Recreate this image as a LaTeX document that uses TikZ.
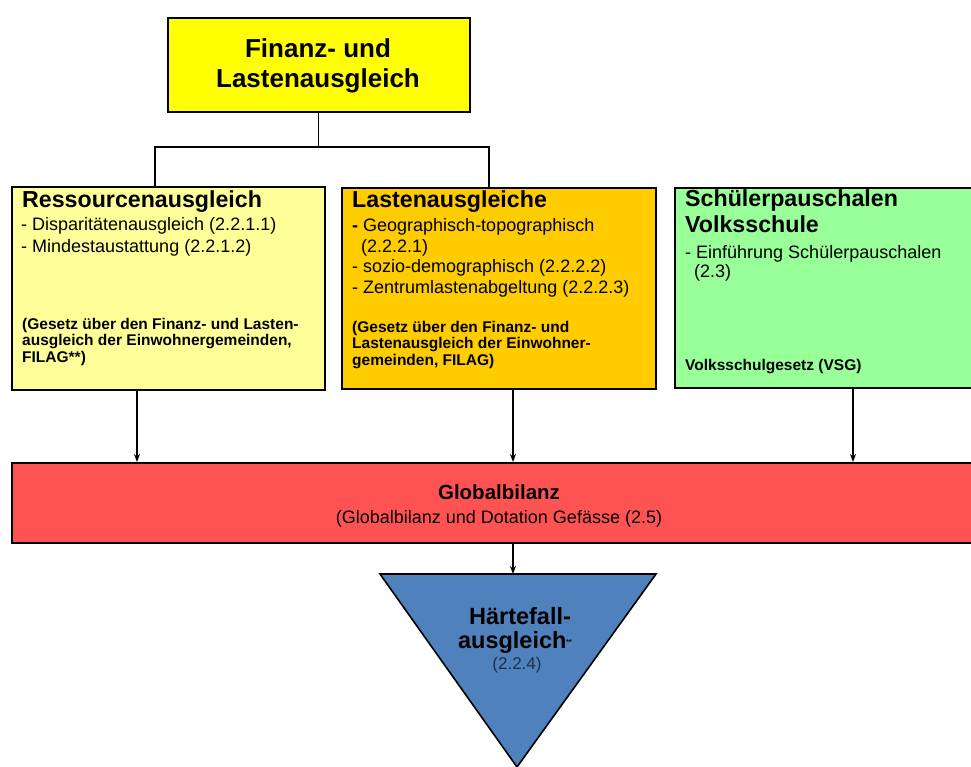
\documentclass[tikz,border=0pt]{standalone}
\usepackage{fontspec}
\setmainfont{Liberation Sans}
\usetikzlibrary{arrows.meta}

\definecolor{flayellow}{HTML}{FFFF00}
\definecolor{ressyellow}{HTML}{FFFF99}
\definecolor{lastorange}{HTML}{FFCC00}
\definecolor{schulgreen}{HTML}{99FF99}
\definecolor{globred}{HTML}{FF5353}
\definecolor{haerteblue}{HTML}{4F81BD}
\definecolor{numnavy}{HTML}{1F2F4A}

\begin{document}
\begin{tikzpicture}[x=1pt, y=-1pt,
  box/.style={draw=black, line width=1.6pt, inner sep=0pt, anchor=north west},
  txt/.style={inner sep=0pt, anchor=base west, align=left},
  head/.style={txt, font=\fontsize{23.2}{26}\selectfont\bfseries},
  body/.style={txt, font=\fontsize{18}{22}\selectfont},
  law/.style={txt, font=\fontsize{15.5}{16.2}\selectfont\bfseries},
  conn/.style={line width=1.3pt},
  arr/.style={line width=1.3pt, -{Stealth[length=8pt, width=6pt]}}]
  \useasboundingbox (0,0) rectangle (971,767);
  \clip (0,0) rectangle (971,767);

  % top (multi-line texts sit on their last baseline)
  \node[box, fill=flayellow, minimum width=302pt, minimum height=94pt] (fla) at (167,17) {};
  \node[inner sep=0pt, anchor=base, align=center, font=\fontsize{26}{30}\selectfont\bfseries] (fla-t) at (318,88) {Finanz- und\\Lastenausgleich};

  % three blocks
  \node[box, fill=ressyellow, minimum width=313pt, minimum height=203pt] (res) at (11,186) {};
  \node[box, fill=lastorange, minimum width=314pt, minimum height=201pt] (last) at (341,187) {};
  \node[box, fill=schulgreen, minimum width=330pt, minimum height=200pt] (schul) at (674,187) {};

  \node[head] (res-h) at (22,208) {Ressourcenausgleich};
  \node[body] (res-b) at (21,253) {- Disparitätenausgleich (2.2.1.1)\\- Mindestaustattung (2.2.1.2)};
  \node[law] (res-l) at (22,362) {(Gesetz über den Finanz- und Lasten-\\ausgleich der Einwohnergemeinden,\\FILAG**)};

  \node[head] (last-h) at (352,208) {Lastenausgleiche};
  \node[body, font=\fontsize{18}{20.4}\selectfont] (last-b) at (352,293) {\textbf{-} Geographisch-topographisch\\\hspace*{9pt}(2.2.2.1)\\- sozio-demographisch (2.2.2.2)\\- Zentrumlastenabgeltung (2.2.2.3)};
  \node[law, font=\fontsize{15.5}{16.5}\selectfont\bfseries] (last-l) at (352,365) {(Gesetz über den Finanz- und\\Lastenausgleich der Einwohner-\\gemeinden, FILAG)};

  \node[head] (schul-h) at (685,233) {Schülerpauschalen\\Volksschule};
  \node[body, font=\fontsize{18}{18.5}\selectfont] (schul-b) at (685,277) {- Einführung Schülerpauschalen\\\hspace*{9pt}(2.3)};
  \node[law] (schul-l) at (685,370) {Volksschulgesetz (VSG)};

  % global balance
  \node[box, fill=globred, minimum width=1000pt, minimum height=80pt] (glob) at (11,462) {};
  \node[inner sep=0pt, anchor=base, font=\fontsize{20.5}{24}\selectfont\bfseries] (glob-h) at (499,499) {Globalbilanz};
  \node[inner sep=0pt, anchor=base, font=\fontsize{18}{22}\selectfont] (glob-s) at (499,523) {(Globalbilanz und Dotation Gefässe (2.5)};

  % hardship triangle
  \filldraw[fill=haerteblue, draw=black, line width=1.6pt, line join=miter] (380,574) -- (656,574) -- (517,767) -- cycle;
  \coordinate (haerte) at (513,574);
  \node[inner sep=0pt, anchor=base, font=\fontsize{23.5}{26}\selectfont\bfseries] (h1) at (520,624) {Härtefall-};
  \node[inner sep=0pt, anchor=base, font=\fontsize{23.5}{26}\selectfont\bfseries] (h2) at (515,648) {ausgleich\raisebox{4pt}{\fontsize{7}{7}\selectfont **}};
  \node[inner sep=0pt, anchor=base, text=numnavy, font=\fontsize{17}{20}\selectfont] (h3) at (517,669) {(2.2.4)};

  % connectors
  \coordinate (j1) at (155,147);
  \coordinate (j2) at (489,147);
  \draw[conn] (fla.south) |- (j1) -- (j1 |- res.north);
  \draw[conn] (fla.south) |- (j2) -- (j2 |- last.north);

  \coordinate (a1) at (137,0);
  \coordinate (a2) at (513,0);
  \coordinate (a3) at (853,0);
  \draw[arr] (a1 |- res.south) -- (a1 |- glob.north);
  \draw[arr] (a2 |- last.south) -- (a2 |- glob.north);
  \draw[arr] (a3 |- schul.south) -- (a3 |- glob.north);
  \draw[arr] (a2 |- glob.south) -- (haerte);
\end{tikzpicture}
\end{document}
